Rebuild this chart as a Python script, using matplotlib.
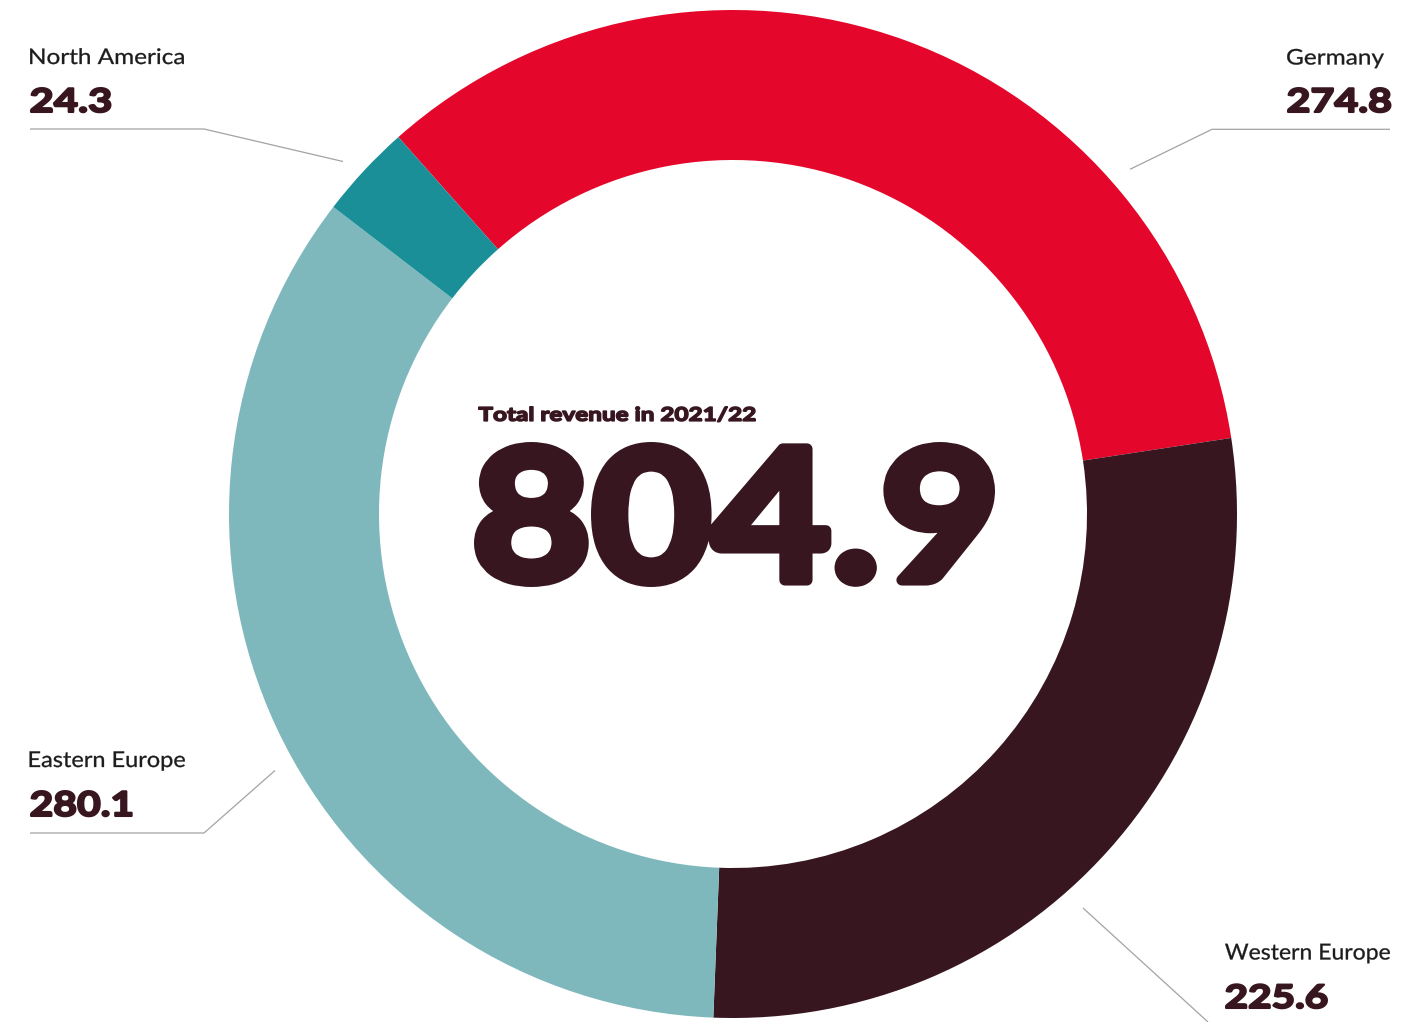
import matplotlib
matplotlib.use("Agg")
import matplotlib.pyplot as plt
from matplotlib.font_manager import FontProperties
from matplotlib.textpath import TextPath
from matplotlib.patches import PathPatch
from matplotlib.transforms import Affine2D

# Revenue by region, 2021/22
regions = ["Germany", "Western Europe", "Eastern Europe", "North America"]
revenue = [274.8, 225.6, 280.1, 24.3]
total_label = "804.9"
total_caption = "Total revenue in 2021/22"
colors = ["#E4062B", "#371620", "#7FB8BC", "#1A8F98"]

W, H = 1424, 1022
fig = plt.figure(figsize=(W / 100, H / 100), dpi=100)
ax = fig.add_axes([0, 0, 1, 1])

cx, cy = 733, H - 514
r_out, r_in = 504, 354
ax.pie(revenue, colors=colors, startangle=131.6, counterclock=False,
       center=(cx, cy), radius=r_out, frame=True,
       wedgeprops=dict(width=r_out - r_in, linewidth=0))
ax.set_xlim(0, W)
ax.set_ylim(0, H)
ax.set_aspect("equal")
ax.axis("off")

dark = "#371620"
ink = "#1c1c1c"
line_c = "#a3a3a3"


def py(y):
    """Convert a top-down pixel row into the axes' y coordinate."""
    return H - y


def _path(s, weight):
    return TextPath((0, 0), s, size=100,
                    prop=FontProperties(family="Lato", weight=weight))


CAP_RATIO = _path("H", "normal").get_extents().height / 100.0


def boxed_text(s, x0, x1, ytop, ybot, weight="bold", stroke=0.0, color=dark):
    """Draw s so that its glyph box spans x0..x1 and ytop..ybot."""
    tp = _path(s, weight)
    bb = tp.get_extents()
    h = stroke / 2.0
    sx = (x1 - x0 - stroke) / bb.width
    sy = (ybot - ytop - stroke) / bb.height
    tr = (Affine2D().translate(-bb.x0, -bb.y0).scale(sx, sy)
          .translate(x0 + h, py(ybot) + h))
    ax.add_patch(PathPatch(tr.transform_path(tp), facecolor=color,
                           edgecolor=color if stroke else "none",
                           linewidth=stroke * 72 / 100, joinstyle="round"))


def baseline_text(s, x0, x1, baseline, cap, weight="normal", stroke=0.0,
                  color=ink):
    """Draw s on a baseline with a given cap height, spanning x0..x1."""
    tp = _path(s, weight)
    bb = tp.get_extents()
    h = stroke / 2.0
    sy = (cap - stroke) / (CAP_RATIO * 100.0)
    sx = (x1 - x0 - stroke) / bb.width
    tr = (Affine2D().translate(-bb.x0, 0).scale(sx, sy)
          .translate(x0 + h, py(baseline)))
    ax.add_patch(PathPatch(tr.transform_path(tp), facecolor=color,
                           edgecolor=color if stroke else "none",
                           linewidth=stroke * 72 / 100, joinstyle="round"))


def leader(pts):
    ax.plot([p[0] for p in pts], [py(p[1]) for p in pts],
            color=line_c, lw=0.9, solid_capstyle="butt")


vals = {r: f"{v:.1f}" for r, v in zip(regions, revenue)}

# North America
baseline_text("North America", 30, 184, 64, 15.7, stroke=0.3)
boxed_text(vals["North America"], 30, 111.5, 87, 113.3, stroke=2.2)
leader([(30, 129), (204, 129), (343, 161.5)])

# Germany
baseline_text("Germany", 1287, 1384, 64.5, 15.7, stroke=0.3)
boxed_text(vals["Germany"], 1287, 1391.5, 87, 113.3, stroke=2.2)
leader([(1390, 129.3), (1212, 129.3), (1130, 169.3)])

# Eastern Europe
baseline_text("Eastern Europe", 29.5, 185, 767, 15.9, stroke=0.3)
boxed_text(vals["Eastern Europe"], 30, 132.7, 790, 817.3, stroke=2.2)
leader([(30, 833), (204, 833), (275, 770.5)])

# Western Europe
baseline_text("Western Europe", 1225, 1390, 959.5, 16.0, stroke=0.3)
boxed_text(vals["Western Europe"], 1225, 1328, 983.3, 1009.3, stroke=2.2)
leader([(1083, 908), (1208, 1022)])

# Centre: caption and total
boxed_text(total_caption, 478, 756, 406, 422.5, stroke=1.6)
boxed_text(total_label, 474, 995, 442, 587, stroke=11)

fig.savefig("out.png", dpi=100, facecolor="white")
